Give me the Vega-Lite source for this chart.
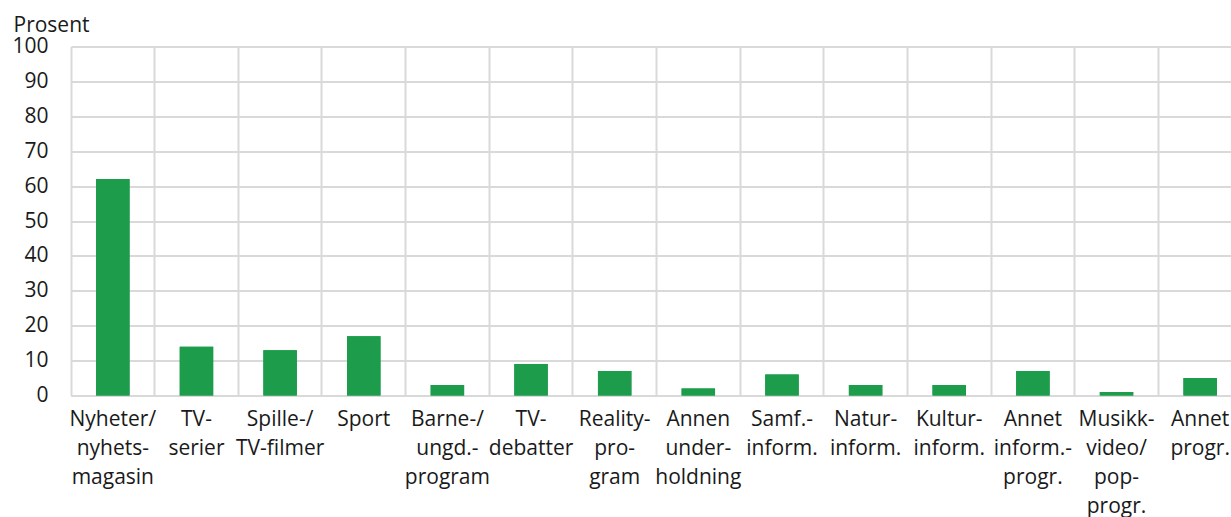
{
  "$schema": "https://vega.github.io/schema/vega-lite/v6.json",
  "autosize": {"type": "none"},
  "padding": {"left": 71, "top": 46.5, "right": 0, "bottom": 125},
  "width": 1171,
  "height": 349,
  "background": "white",
  "config": {
    "view": {"stroke": null},
    "font": "Open Sans",
    "axis": {"labelFont": "Open Sans", "titleFont": "Open Sans", "labelColor": "#1a1a1a", "titleColor": "#1a1a1a"},
    "axisY": {
      "values": [0, 10, 20, 30, 40, 50, 60, 70, 80, 90, 100],
      "grid": true, "gridColor": "#d9d9d9", "gridWidth": 2,
      "domain": false, "ticks": false, "tickSize": 0,
      "labelFontSize": 21, "labelPadding": 23, "labelAlign": "right",
      "labelOverlap": false, "labelBound": false,
      "titleFontSize": 21, "titleFontWeight": "normal",
      "titleAngle": 0, "titleAlign": "left", "titleBaseline": "alphabetic",
      "titleX": -58, "titleY": -15
    }
  },
  "data": {
    "values": [
      {"kategori": "Nyheter/|nyhets-|magasin", "prosent": 62},
      {"kategori": "TV-|serier", "prosent": 14},
      {"kategori": "Spille-/|TV-filmer", "prosent": 13},
      {"kategori": "Sport", "prosent": 17},
      {"kategori": "Barne-/|ungd.-|program", "prosent": 3},
      {"kategori": "TV-|debatter", "prosent": 9},
      {"kategori": "Reality-|pro-|gram", "prosent": 7},
      {"kategori": "Annen|under-|holdning", "prosent": 2},
      {"kategori": "Samf.-|inform.", "prosent": 6},
      {"kategori": "Natur-|inform.", "prosent": 3},
      {"kategori": "Kultur-|inform.", "prosent": 3},
      {"kategori": "Annet|inform.-|progr.", "prosent": 7},
      {"kategori": "Musikk-|video/|pop-|progr.", "prosent": 1},
      {"kategori": "Annet|progr.", "prosent": 5}
    ]
  },
  "layer": [
    {
      "mark": {"type": "bar", "color": "#1d9c4b", "width": {"band": 0.4}},
      "encoding": {
        "x": {
          "field": "kategori", "type": "nominal", "sort": null,
          "scale": {"paddingInner": 0, "paddingOuter": 0},
          "axis": {"orient": "bottom", "grid": true, "gridColor": "#d9d9d9", "gridWidth": 2, "bandPosition": 0, "labels": false, "ticks": false, "domain": false, "title": null}
        },
        "y": {
          "field": "prosent", "type": "quantitative",
          "scale": {"domain": [0, 100]},
          "axis": {"title": "Prosent", "values": [0, 10, 20, 30, 40, 50, 60, 70, 80, 90, 100]}
        }
      }
    },
    {
      "mark": {"type": "bar", "color": "#1d9c4b", "width": {"band": 0.4}},
      "encoding": {
        "x": {
          "field": "kategori", "type": "nominal", "sort": null,
          "axis": {
            "orient": "bottom", "grid": false, "ticks": false, "tickSize": 0,
            "domain": true, "domainColor": "#d9d9d9", "domainWidth": 2,
            "labelAngle": 0, "labelFontSize": 21, "labelLineHeight": 29,
            "labelPadding": 13, "labelBaseline": "top", "labelAlign": "center",
            "labelOverlap": false, "labelBound": false,
            "labelExpr": "split(datum.label, '|')", "title": null
          }
        },
        "y": {
          "field": "prosent", "type": "quantitative",
          "axis": {"title": "Prosent", "values": [0, 10, 20, 30, 40, 50, 60, 70, 80, 90, 100]}
        }
      }
    }
  ],
  "resolve": {"axis": {"x": "independent"}}
}
